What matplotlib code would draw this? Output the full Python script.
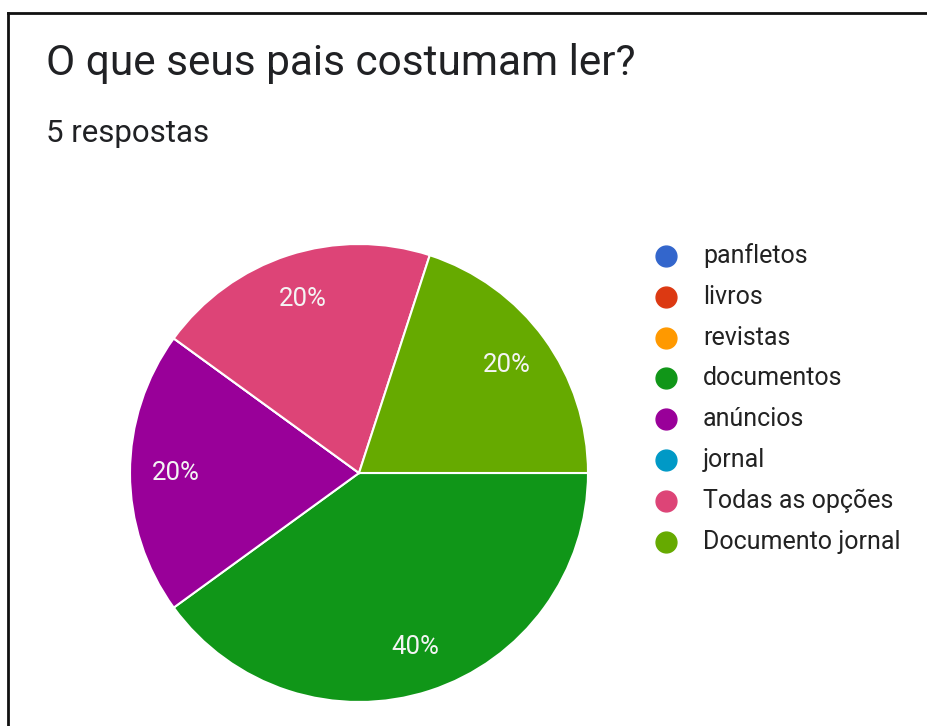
import matplotlib
matplotlib.use("Agg")
import matplotlib.pyplot as plt
from matplotlib.lines import Line2D

plt.rcParams['font.family'] = ['Roboto', 'DejaVu Sans']

# Survey answers (number of responses per option)
labels = ['panfletos', 'livros', 'revistas', 'documentos', 'anúncios',
          'jornal', 'Todas as opções', 'Documento jornal']
counts = [0, 0, 0, 2, 1, 0, 1, 1]
colors = ['#3366CC', '#DC3912', '#FF9900', '#109618', '#990099',
          '#0099C6', '#DD4477', '#66AA00']
title = 'O que seus pais costumam ler?'
subtitle = '5 respostas'

W, H = 927, 726
fig = plt.figure(figsize=(W / 100, H / 100), dpi=100)
fig.patch.set_facecolor('white')


def px(x, y):
    # pixel position (from top-left) -> figure fraction
    return x / W, 1 - y / H


# frame lines along the top and left edges
fig.add_artist(Line2D([8 / W, 1], [1 - 13 / H] * 2, color='#111111', lw=2))
fig.add_artist(Line2D([8 / W] * 2, [0, 1 - 13 / H], color='#111111', lw=2))

fig.text(*px(46, 64), title, fontsize=30.5, color='#202124', va='center')
fig.text(*px(46, 134), subtitle, fontsize=22.5, color='#202124', va='center')

# pie: centre (359, 473), radius 229 px
cx, cy, r = 359, 473, 229
ax = fig.add_axes([(cx - r) / W, (H - cy - r) / H, 2 * r / W, 2 * r / H])


def pct(p):
    return f'{p:.0f}%' if p > 0.5 else ''


wedges, _, autotexts = ax.pie(counts, colors=colors, startangle=0,
                              counterclock=False, autopct=pct,
                              pctdistance=0.8,
                              wedgeprops=dict(edgecolor='white', linewidth=1.5))
for t in autotexts:
    t.set_color('#f4f4f4')
    t.set_fontsize(18.5)
ax.set_xlim(-1, 1)
ax.set_ylim(-1, 1)
ax.set_aspect('equal')
ax.axis('off')

# legend with round markers
for i, (lab, col) in enumerate(zip(labels, colors)):
    y = 256 + i * 40.8
    fig.add_artist(Line2D([666 / W], [1 - y / H], marker='o', markersize=15,
                          color=col, linestyle='none'))
    fig.text(*px(703, y), lab, fontsize=18, color='#222222', va='center')

fig.savefig('out.png', dpi=100)
